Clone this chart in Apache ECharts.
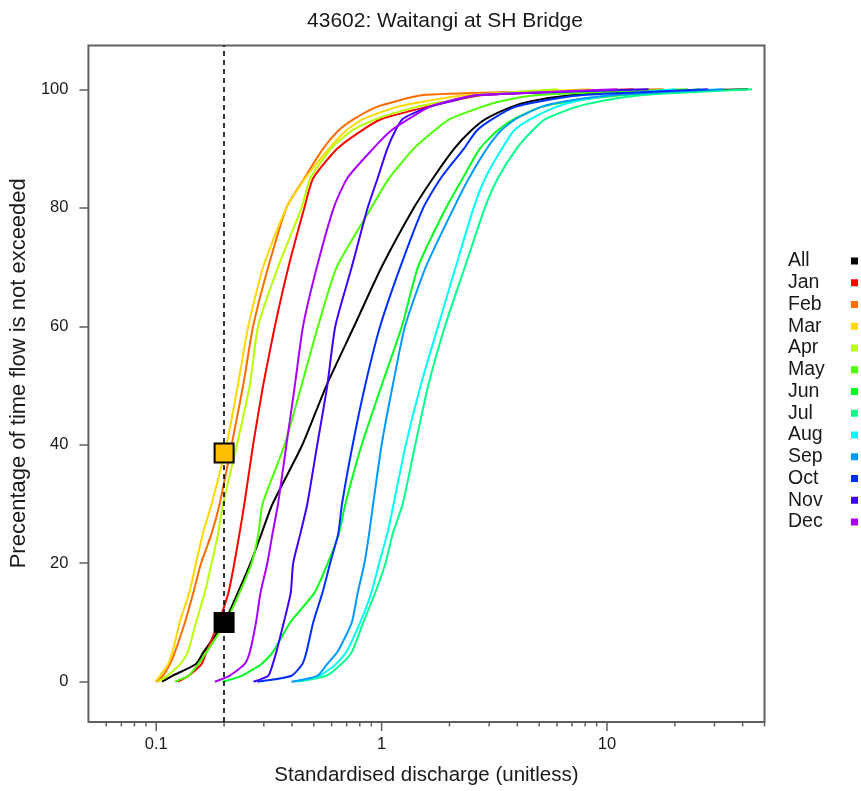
<!DOCTYPE html>
<html>
<head>
<meta charset="utf-8">
<script src="https://cdn.jsdelivr.net/npm/echarts@6/dist/echarts.min.js"></script>
<style>
html,body{margin:0;padding:0;background:#ffffff;}
#chart{width:861px;height:791px;}
</style>
</head>
<body>
<div id="chart"></div>
<script>
// ---- data ----
const titleText = '43602: Waitangi at SH Bridge';
const seriesNames = ['All','Jan','Feb','Mar','Apr','May','Jun','Jul','Aug','Sep','Oct','Nov','Dec'];
const seriesColors = ['#000000','#FF0000','#FF6C00','#FFD800','#B9FF00','#4DFF00','#00FF1F','#00FF8B','#00FFF7','#009AFF','#002EFF','#3E00FF','#AA00FF'];
// percentage of time flow is not exceeded (y)
const pctLevels = [0,1,3,5,10,15,20,25,30,40,50,60,70,80,85,90,93,95,97,98,99,99.5,100];
// standardised discharge at each percentage level (x)
const qAll = [0.106,0.118,0.15,0.162,0.2,0.23,0.262,0.293,0.328,0.445,0.569,0.755,1.0,1.39,1.69,2.1,2.49,2.9,3.75,4.6,6.9,11.5,42.3];
const qJan = [0.125,0.139,0.159,0.167,0.189,0.209,0.222,0.234,0.246,0.269,0.298,0.336,0.386,0.454,0.497,0.636,0.812,1.0,1.57,2.03,2.76,5.1,13.1];
const qFeb = [0.1,0.107,0.115,0.121,0.134,0.146,0.158,0.176,0.191,0.216,0.243,0.269,0.314,0.378,0.454,0.55,0.642,0.755,0.946,1.16,1.5,3.38,17.8];
const qMar = [0.099,0.104,0.113,0.118,0.127,0.14,0.15,0.161,0.176,0.205,0.23,0.256,0.298,0.378,0.458,0.585,0.695,0.83,1.16,1.57,2.36,4.14,8.45];
const qApr = [0.102,0.112,0.128,0.138,0.15,0.164,0.176,0.188,0.198,0.228,0.26,0.283,0.347,0.441,0.483,0.597,0.735,0.946,1.42,1.93,2.62,3.75,6.04];
const qMay = [0.121,0.139,0.154,0.167,0.203,0.234,0.265,0.284,0.296,0.371,0.441,0.522,0.632,0.9,1.08,1.39,1.71,2.01,2.76,3.38,4.83,9.36,22.9];
const qJun = [0.197,0.239,0.293,0.329,0.393,0.503,0.577,0.646,0.69,0.816,1.0,1.23,1.45,1.93,2.29,2.73,3.26,3.88,5.08,6.9,11.5,17.2,25.9];
const qJul = [0.423,0.568,0.663,0.737,0.829,0.936,1.04,1.12,1.24,1.41,1.61,1.91,2.34,2.87,3.28,3.97,4.66,5.35,7.25,9.36,14.1,23.4,44.0];
const qAug = [0.406,0.53,0.628,0.697,0.803,0.9,0.975,1.06,1.13,1.28,1.49,1.78,2.13,2.56,2.88,3.42,3.86,4.59,5.92,7.25,10.4,14.1,20.1];
const qSep = [0.398,0.519,0.574,0.636,0.737,0.783,0.839,0.88,0.917,1.0,1.12,1.27,1.57,2.09,2.44,2.93,3.38,3.94,5.08,6.55,10.4,17.2,32.8];
const qOct = [0.281,0.398,0.445,0.464,0.497,0.546,0.591,0.642,0.667,0.744,0.845,0.985,1.21,1.53,1.83,2.32,2.64,3.11,3.88,5.08,7.63,14.1,28.1];
const qNov = [0.27,0.314,0.329,0.341,0.368,0.395,0.405,0.436,0.468,0.518,0.574,0.623,0.737,0.867,0.96,1.06,1.15,1.24,1.62,2.03,2.62,5.62,15.3];
const qDec = [0.182,0.211,0.247,0.26,0.277,0.29,0.311,0.328,0.347,0.378,0.412,0.448,0.516,0.613,0.704,0.917,1.1,1.32,1.62,1.97,2.62,5.08,11.1];
const seriesQ = [qAll,qJan,qFeb,qMar,qApr,qMay,qJun,qJul,qAug,qSep,qOct,qNov,qDec];

const thresholdQ = 0.2;
const markerAll = [0.2, 10];
const markerMar = [0.2, 38.6];

const xMin = 0.05, xMax = 50;
const yMin = -6.8, yMax = 107.4;
const yTicks = [0,20,40,60,80,100];
const xMajorTicks = [0.1,1,10];
const xMinorTicks = [0.06,0.07,0.08,0.09,0.2,0.3,0.4,0.5,0.6,0.7,0.8,0.9,2,3,4,5,6,7,8,9,20,30,40,50];

// ---- chart ----
const FONT = "'Liberation Sans', Arial, sans-serif";
const TXT = '#1a1a1a';
const AXC = '#606060';

const chart = echarts.init(document.getElementById('chart'), null, {renderer:'canvas'});

function tickSeries(values, len) {
  return {
    type: 'custom', silent: true, clip: false, z: 1,
    data: values.map(v => [v, yMin]),
    renderItem: function (params, api) {
      const p = api.coord([api.value(0), api.value(1)]);
      return {type:'line', shape:{x1:p[0], y1:p[1], x2:p[0], y2:p[1] + len},
              style:{stroke:AXC, lineWidth:1.5}};
    }
  };
}

const lineSeries = seriesNames.map((name, i) => ({
  name: name,
  type: 'line',
  data: seriesQ[i].map((q, k) => [q, pctLevels[k]]),
  showSymbol: false,
  symbol: 'none',
  smooth: 0.2,
  color: seriesColors[i],
  lineStyle: {width: 2, color: seriesColors[i]},
  emphasis: {disabled: true},
  z: 2
}));

const option = {
  animation: false,
  backgroundColor: '#ffffff',
  textStyle: {fontFamily: FONT},
  title: {
    text: titleText,
    left: 440, top: 6,
    textAlign: 'center',
    textStyle: {fontFamily: FONT, fontSize: 21, fontWeight: 'normal', color: TXT}
  },
  legend: {
    data: seriesNames,
    orient: 'vertical',
    left: 783, top: 246,
    align: 'right',
    icon: 'rect',
    itemWidth: 7, itemHeight: 7,
    itemGap: 1.75,
    selectedMode: false,
    formatter: n => '{n|' + n + '}',
    textStyle: {
      fontFamily: FONT, fontSize: 19.5, color: TXT,
      rich: {n: {width: 58, align: 'left', fontSize: 19.5, lineHeight: 20, fontFamily: FONT, color: TXT}}
    }
  },
  grid: {
    left: 86.5, right: 96.5, top: 45.5, bottom: 68.3,
    show: true, borderColor: AXC, borderWidth: 2, backgroundColor: 'transparent'
  },
  xAxis: {
    type: 'log', logBase: 10, min: xMin, max: xMax,
    name: 'Standardised discharge (unitless)',
    nameLocation: 'middle', nameGap: 43,
    nameTextStyle: {fontFamily: FONT, fontSize: 20.5, color: TXT},
    axisLine: {show: false},
    axisTick: {show: false},
    splitLine: {show: false},
    minorTick: {show: false},
    axisLabel: {showMinLabel: false, showMaxLabel: false, margin: 14,
                fontFamily: FONT, fontSize: 16.5, color: TXT}
  },
  yAxis: {
    type: 'value', min: yMin, max: yMax,
    name: 'Precentage of time flow is not exceeded',
    nameLocation: 'middle', nameGap: 46,
    nameTextStyle: {fontFamily: FONT, fontSize: 22, color: TXT, padding: [0, 0, 0, 21]},
    axisLine: {show: false},
    splitLine: {show: false},
    axisTick: {show: true, length: 9, customValues: yTicks, lineStyle: {color: AXC, width: 1.5}},
    axisLabel: {customValues: yTicks, margin: 20, fontFamily: FONT, fontSize: 16.5, color: TXT}
  },
  series: [
    tickSeries(xMajorTicks, 9),
    tickSeries(xMinorTicks, 4.5),
    ...lineSeries,
    {
      type: 'line', name: 'threshold', data: [], silent: true, z: 3,
      markLine: {
        silent: true, symbol: ['none','none'], label: {show: false},
        lineStyle: {color: '#000', type: [5,4], width: 1.6},
        data: [{xAxis: thresholdQ}]
      }
    },
    {
      type: 'scatter', name: 'markAll', data: [markerAll], symbol: 'rect', symbolSize: 21,
      itemStyle: {color: '#000000', opacity: 1}, silent: true, z: 5
    },
    {
      type: 'scatter', name: 'markMar', data: [markerMar], symbol: 'rect', symbolSize: 19,
      itemStyle: {color: '#FFBF00', borderColor: '#000000', borderWidth: 2, opacity: 1}, silent: true, z: 5
    }
  ]
};
chart.setOption(option);
</script>
</body>
</html>
